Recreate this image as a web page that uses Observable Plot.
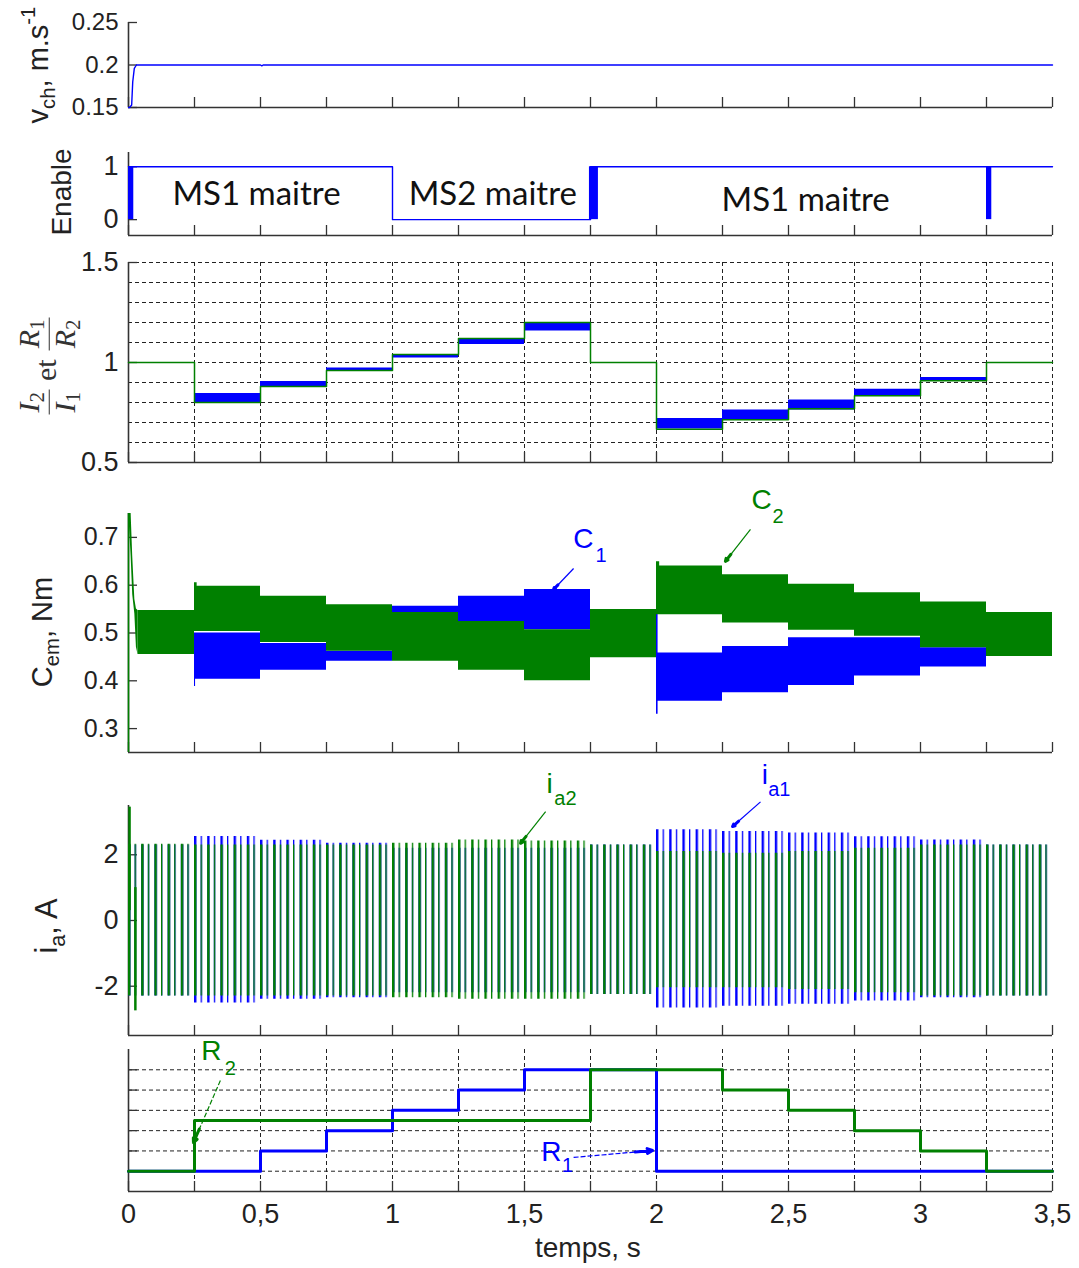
<!DOCTYPE html>
<html><head><meta charset="utf-8">
<script src="https://cdn.jsdelivr.net/npm/d3@7"></script>
<script src="https://cdn.jsdelivr.net/npm/@observablehq/plot@0.6"></script>
<style>
body{margin:0;background:#fff;}
#root{position:relative;width:1079px;height:1268px;overflow:hidden;background:#fff;font-family:"Liberation Sans",Arial,sans-serif;}
.panel{position:absolute;left:0;}
.ylab{position:absolute;transform:translate(-50%,-50%) rotate(-90deg);white-space:nowrap;color:#222;font-family:"Liberation Sans",Arial,sans-serif;line-height:1;}
.ylab sub{font-size:0.7em;vertical-align:-0.35em;}
.ylab sup{font-size:0.7em;vertical-align:0.65em;}
.frac{display:inline-flex;flex-direction:column;vertical-align:middle;text-align:center;font-size:30px;line-height:1.0;}
.frac .num{border-bottom:1.6px solid #333;padding:0 2px 1px 2px;}
.frac sub{font-size:0.7em;vertical-align:-0.25em;}
</style></head>
<body><div id="root"></div>
<script>
// ================= DATA =================
const segStart = [0,0.25,0.5,0.75,1,1.25,1.5,1.75,2,2.25,2.5,2.75,3,3.25];
const tEnd = 3.5;
// R1, R2 step levels (arbitrary units)
const R1 = [10,10,11,12,13,14,15,15,10,10,10,10,10,10];
const R2 = [10,12.5,12.5,12.5,12.5,12.5,12.5,15,15,14,13,12,11,10];
// v_ch
const vchT = [0,0.004,0.012,0.016,0.022,0.03,0.5,0.505,0.51,3.5];
const vchV = [0.15,0.15,0.153,0.18,0.196,0.2,0.2,0.199,0.2,0.2];
// Enable
const enableT = [0,1,1.75];
const enableV = [1,0,1];
const burstStart = [0,1.746,3.25];
const burstEnd = [0.02,1.78,3.27];
const enableLabels = ["MS1 maitre","MS2 maitre","MS1 maitre"];
const enableLabelT = [0.485,1.38,2.565];
const enableLabelV = [0.47,0.47,0.36];
// I2/I1 band (per segment)
const ratioI_lo = [1,0.8,0.876,0.96,1.023,1.09,1.157,1,0.667,0.713,0.763,0.833,0.907,1];
const ratioI_hi = [1,0.845,0.905,0.972,1.04,1.12,1.2,1,0.72,0.763,0.813,0.866,0.925,1];
// C2 (green) start-up transient
const C2trT  = [0,0.002,0.010,0.016,0.024,0.030,0.036];
const C2trLo = [0.25,0.74,0.66,0.58,0.54,0.47,0.455];
const C2trHi = [0.75,0.75,0.75,0.66,0.57,0.55,0.547];
// C2 (green) envelope
const C2T  = [0.036,0.25,0.26,0.5,0.75,1,1.25,1.5,1.75,2,2.012,2.25,2.5,2.75,3,3.25];
const C2lo = [0.455,0.503,0.503,0.48,0.462,0.441,0.422,0.40,0.448,0.538,0.538,0.521,0.506,0.493,0.469,0.451];
const C2hi = [0.547,0.605,0.598,0.577,0.559,0.543,0.524,0.507,0.549,0.649,0.64,0.622,0.602,0.584,0.565,0.543];
// C1 (blue) envelope
const C1T  = [0.038,0.25,0.254,0.5,0.75,1,1.25,1.5,1.75,2,2.006,2.25,2.5,2.75,3,3.25];
const C1lo = [0.455,0.388,0.403,0.422,0.441,0.541,0.524,0.507,0.455,0.33,0.357,0.375,0.39,0.41,0.429,0.451];
const C1hi = [0.545,0.5,0.5,0.478,0.462,0.556,0.577,0.591,0.545,0.545,0.458,0.472,0.49,0.49,0.469,0.543];
// i_a envelopes (per segment)
const IA2hi = [2.32,2.3,2.3,2.3,2.35,2.45,2.42,2.3,2.1,2.05,2.1,2.2,2.3,2.3];
const IA2lo = [-2.3,-2.3,-2.3,-2.3,-2.35,-2.4,-2.4,-2.25,-2.05,-2.05,-2.1,-2.2,-2.3,-2.3];
const IA1hi = [2.3,2.56,2.44,2.35,2.2,2.2,2.2,2.3,2.76,2.71,2.66,2.55,2.45,2.3];
const IA1lo = [-2.3,-2.51,-2.4,-2.35,-2.2,-2.2,-2.2,-2.25,-2.66,-2.61,-2.55,-2.45,-2.35,-2.3];
const iaSpikeT = [0.004,0.026];
const iaSpikeLo = [0.3,-2.75];
const iaSpikeHi = [3.45,1.0];
// ticks
const xTicks = [0,0.25,0.5,0.75,1,1.25,1.5,1.75,2,2.25,2.5,2.75,3,3.25,3.5];
const xLabelVals = [0,0.5,1,1.5,2,2.5,3,3.5];
const xLabelText = ["0","0,5","1","1,5","2","2,5","3","3,5"];
const vchTicks = [0.15,0.2,0.25];
const vchTickText = ["0.15","0.2","0.25"];
const enTicks = [0,1];
const enTickText = ["0","1"];
const ratioTicks = [0.5,1,1.5];
const ratioTickText = ["0.5","1","1.5"];
const ratioGrid = [0.6,0.7,0.8,0.9,1,1.1,1.2,1.3,1.4,1.5];
const cTicks = [0.3,0.4,0.5,0.6,0.7];
const cTickText = ["0.3","0.4","0.5","0.6","0.7"];
const iaTicks = [-2,0,2];
const iaTickText = ["-2","0","2"];
const rGrid = [10,11,12,13,14,15];
// annotations (data coordinates)
const annC = [
  {x:1.723,y:0.696,t:"C",s:"1",sx:1.79,sy:0.662,c:"#0000ff",ax1:1.686,ay1:0.635,ax2:1.61,ay2:0.591},
  {x:2.398,y:0.778,t:"C",s:"2",sx:2.46,sy:0.744,c:"#008000",ax1:2.356,ay1:0.717,ax2:2.261,ay2:0.65}
];
const annIa = [
  {x:1.595,y:4.16,t:"i",s:"a2",sx:1.655,sy:3.7,c:"#008000",ax1:1.58,ay1:3.31,ax2:1.485,ay2:2.35},
  {x:2.41,y:4.43,t:"i",s:"a1",sx:2.465,sy:3.98,c:"#0000ff",ax1:2.394,ay1:3.61,ax2:2.288,ay2:2.86}
];
const annR = [
  {x:0.314,y:15.9,t:"R",s:"2",sx:0.386,sy:15.06,c:"#008000",ax1:0.348,ay1:14.47,ax2:0.246,ay2:11.41},
  {x:1.602,y:10.97,t:"R",s:"1",sx:1.663,sy:10.28,c:"#0000ff",ax1:1.686,ay1:10.68,ax2:1.985,ay2:11.02}
];

// ================= HELPERS =================
const W = 1079, ML = 128, MR = 27;
const xDomain = [0, tEnd];
const AX = "#333";
const BLUE = "#0000ff", GREEN = "#008000";
const FONT = "Liberation Sans, Arial, sans-serif";
const root = document.getElementById("root");

function stepRows(T, lo, hi) {
  const rows = T.map((t, i) => ({t, lo: lo[i], hi: hi[i]}));
  rows.push({t: tEnd, lo: lo[lo.length - 1], hi: hi[hi.length - 1]});
  return rows;
}
function stepLine(T, V) {
  const rows = T.map((t, i) => ({t, v: V[i]}));
  rows.push({t: tEnd, v: V[V.length - 1]});
  return rows;
}
function frameMarks(yDom, plotH, yTicks, yText, fs) {
  const tx = 9 * (xDomain[1] - xDomain[0]) / (W - ML - MR);
  const ty = 10 * (yDom[1] - yDom[0]) / plotH;
  return [
    Plot.ruleY([yDom[0]], {stroke: AX, strokeWidth: 1.6}),
    Plot.ruleX([xDomain[0]], {stroke: AX, strokeWidth: 1.6}),
    Plot.ruleX(xTicks, {x: d => d, y1: yDom[0], y2: yDom[0] + ty, stroke: AX, strokeWidth: 1.3}),
    Plot.ruleY(yTicks, {y: d => d, x1: 0, x2: tx, stroke: AX, strokeWidth: 1.3}),
    Plot.text(yTicks, {x: 0, y: d => d, text: (d, i) => yText[i], textAnchor: "end", dx: -10, fontSize: fs, fill: "#222", fontFamily: FONT})
  ];
}
function annMarks(ann, dash) {
  const f = 0.78;
  return [
    Plot.link(ann, {x1: "ax1", y1: "ay1", x2: "ax2", y2: "ay2", stroke: d => d.c, strokeWidth: 1.2, strokeDasharray: dash ? "5,2" : null}),
    Plot.arrow(ann, {x1: d => d.ax1 + f * (d.ax2 - d.ax1), y1: d => d.ay1 + f * (d.ay2 - d.ay1), x2: "ax2", y2: "ay2",
      stroke: d => d.c, strokeWidth: 3, headLength: 8, headAngle: 50}),
    Plot.text(ann, {x: "x", y: "y", text: "t", fill: d => d.c, fontSize: 28, fontFamily: FONT}),
    Plot.text(ann, {x: "sx", y: "sy", text: "s", fill: d => d.c, fontSize: 20, fontFamily: FONT})
  ];
}
function place(svg, top) {
  const div = document.createElement("div");
  div.className = "panel";
  div.style.top = top + "px";
  div.appendChild(svg);
  root.appendChild(div);
  return svg;
}
function mk(opts) {
  return Plot.plot(Object.assign({
    width: W, marginLeft: ML, marginRight: MR,
    x: {domain: xDomain, axis: null},
    style: {background: "transparent", overflow: "visible", fontFamily: FONT}
  }, opts));
}
function ylab(html, x, y, fs, extra) {
  const d = document.createElement("div");
  d.className = "ylab";
  d.style.left = x + "px"; d.style.top = y + "px"; d.style.fontSize = fs + "px";
  if (extra) d.style.cssText += extra;
  d.innerHTML = html;
  root.appendChild(d);
}

// ================= PANEL 1: v_ch =================
{
  const yDom = [0.15, 0.25], mt = 22, ph = 85, mb = 6;
  place(mk({
    height: mt + ph + mb, marginTop: mt, marginBottom: mb,
    y: {domain: yDom, axis: null},
    marks: [
      ...frameMarks(yDom, ph, vchTicks, vchTickText, 24),
      Plot.line(vchT.map((t, i) => ({t, v: vchV[i]})), {x: "t", y: "v", stroke: BLUE, strokeWidth: 1.4})
    ]
  }), 0);
}
// ================= PANEL 2: Enable =================
{
  const yDom = [-0.3, 1.27], mt = 12, ph = 83, mb = 6;
  place(mk({
    height: mt + ph + mb, marginTop: mt, marginBottom: mb,
    y: {domain: yDom, axis: null},
    marks: [
      ...frameMarks(yDom, ph, enTicks, enTickText, 27),
      Plot.line(stepLine(enableT, enableV), {x: "t", y: "v", curve: "step-after", stroke: BLUE, strokeWidth: 1.4}),
      Plot.rect(burstStart.map((s, i) => ({s, e: burstEnd[i]})), {x1: "s", x2: "e", y1: 0, y2: 1, fill: BLUE}),
      Plot.text(enableLabels, {x: (d, i) => enableLabelT[i], y: (d, i) => enableLabelV[i], text: d => d, fontSize: 33, fontFamily: "Lato, Open Sans, sans-serif", fill: "#111"})
    ]
  }), 140);
}
// ================= PANEL 3: ratios =================
{
  const yDom = [0.5, 1.5], mt = 17, ph = 200, mb = 6;
  const ratioR = R1.map((r, i) => r / R2[i]);
  place(mk({
    height: mt + ph + mb, marginTop: mt, marginBottom: mb,
    y: {domain: yDom, axis: null},
    marks: [
      Plot.ruleY(ratioGrid, {y: d => d, stroke: "#222", strokeWidth: 1, strokeDasharray: "4,3"}),
      Plot.ruleX(xTicks.slice(1), {x: d => d, stroke: "#222", strokeWidth: 1, strokeDasharray: "4,3"}),
      ...frameMarks(yDom, ph, ratioTicks, ratioTickText, 27),
      Plot.areaY(stepRows(segStart, ratioI_lo, ratioI_hi), {x: "t", y1: "lo", y2: "hi", curve: "step-after", fill: BLUE}),
      Plot.line(stepLine(segStart, ratioR), {x: "t", y: "v", curve: "step-after", stroke: GREEN, strokeWidth: 1.5})
    ]
  }), 245);
}
// ================= PANEL 4: C_em =================
{
  const yDom = [0.25, 0.75], mt = 33, ph = 239, mb = 4;
  place(mk({
    height: mt + ph + mb, marginTop: mt, marginBottom: mb,
    y: {domain: yDom, axis: null},
    marks: [
      ...frameMarks(yDom, ph, cTicks, cTickText, 25),
      Plot.areaY(stepRows(C1T, C1lo, C1hi), {x: "t", y1: "lo", y2: "hi", curve: "step-after", fill: BLUE}),
      Plot.areaY(C2trT.map((t, i) => ({t, lo: C2trLo[i], hi: C2trHi[i]})), {x: "t", y1: "lo", y2: "hi", curve: "linear", fill: GREEN}),
      Plot.ruleX([0], {y1: 0.25, y2: 0.75, stroke: GREEN, strokeWidth: 1.5}),
      Plot.areaY(stepRows(C2T, C2lo, C2hi), {x: "t", y1: "lo", y2: "hi", curve: "step-after", fill: GREEN}),
      ...annMarks(annC, false)
    ]
  }), 480);
}
// ================= PANEL 5: i_a =================
{
  const yDom = [-3.5, 3.5], mt = 49, ph = 230, mb = 1;
  const svg = place(mk({
    height: mt + ph + mb, marginTop: mt, marginBottom: mb,
    y: {domain: yDom, axis: null},
    marks: [
      ...frameMarks(yDom, ph, iaTicks, iaTickText, 27),
      Plot.areaY(stepRows(segStart, IA1lo, IA1hi), {x: "t", y1: "lo", y2: "hi", curve: "step-after", fill: "url(#stripesBlue)"}),
      Plot.areaY(stepRows(segStart, IA2lo, IA2hi), {x: "t", y1: "lo", y2: "hi", curve: "step-after", fill: "url(#stripesGreen)"}),
      Plot.ruleX(iaSpikeT.map((t, i) => ({t, lo: iaSpikeLo[i], hi: iaSpikeHi[i]})), {x: "t", y1: "lo", y2: "hi", stroke: GREEN, strokeWidth: 2.5}),
      ...annMarks(annIa, false)
    ]
  }), 756);
  const ns = "http://www.w3.org/2000/svg";
  const defs = document.createElementNS(ns, "defs");
  [["stripesGreen", GREEN], ["stripesBlue", BLUE]].forEach(([id, col]) => {
    const p = document.createElementNS(ns, "pattern");
    p.setAttribute("id", id);
    p.setAttribute("patternUnits", "userSpaceOnUse");
    p.setAttribute("x", 128); p.setAttribute("y", 0);
    p.setAttribute("width", 13.2); p.setAttribute("height", 20);
    const r1 = document.createElementNS(ns, "rect");
    r1.setAttribute("x", 0); r1.setAttribute("y", 0); r1.setAttribute("width", 2.4); r1.setAttribute("height", 20); r1.setAttribute("fill", col);
    const r2 = document.createElementNS(ns, "rect");
    r2.setAttribute("x", 6.6); r2.setAttribute("y", 0); r2.setAttribute("width", 1.3); r2.setAttribute("height", 20); r2.setAttribute("fill", col);
    p.appendChild(r1); p.appendChild(r2);
    defs.appendChild(p);
  });
  svg.insertBefore(defs, svg.firstChild);
}
// ================= PANEL 6: R =================
{
  const yDom = [9, 16], mt = 13, ph = 142, mb = 77;
  place(mk({
    height: mt + ph + mb, marginTop: mt, marginBottom: mb,
    y: {domain: yDom, axis: null},
    marks: [
      Plot.ruleY(rGrid, {y: d => d, stroke: "#222", strokeWidth: 1, strokeDasharray: "4,3"}),
      Plot.ruleX(xTicks.slice(1), {x: d => d, stroke: "#222", strokeWidth: 1, strokeDasharray: "4,3"}),
      ...frameMarks(yDom, ph, rGrid, rGrid.map(() => ""), 20),
      Plot.line(stepLine(segStart, R1), {x: "t", y: "v", curve: "step-after", stroke: BLUE, strokeWidth: 3}),
      Plot.line(stepLine(segStart, R2), {x: "t", y: "v", curve: "step-after", stroke: GREEN, strokeWidth: 3}),
      ...annMarks(annR, true),
      Plot.text(xLabelVals, {x: d => d, y: 9, text: (d, i) => xLabelText[i], dy: 23, fontSize: 27, fill: "#222", fontFamily: FONT}),
      Plot.text(["temps, s"], {x: 1.74, y: 9, text: d => d, dy: 57, fontSize: 28, fill: "#222", fontFamily: FONT})
    ]
  }), 1036);
}

// ================= Y LABELS =================
ylab('v<sub>ch</sub>, m.s<sup>-1</sup>', 38, 65, 29);
ylab('Enable', 62, 192, 28);
ylab('<span class="frac"><span class="num"><i>I</i><sub>2</sub></span><span class="den"><i>I</i><sub>1</sub></span></span><span style="margin:0 9px;font-size:30px">et</span><span class="frac"><span class="num"><i>R</i><sub>1</sub></span><span class="den"><i>R</i><sub>2</sub></span></span>', 49, 366, 30, "font-family:'Liberation Serif','DejaVu Serif',serif;color:#333;");
ylab('C<sub>em</sub>, Nm', 45, 632, 29);
ylab('i<sub>a</sub>, A', 50, 926, 31);
</script>
</body></html>
